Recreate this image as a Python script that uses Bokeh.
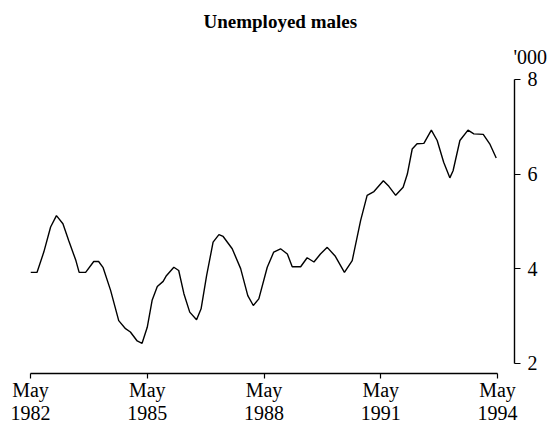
from bokeh.plotting import figure
from bokeh.models import FixedTicker, Title
from bokeh.embed import file_html
from bokeh.resources import INLINE

# Months since May 1982 and values ('000)
months = [0, 2, 4.1, 6.2, 8, 10, 11.8, 14, 15, 17, 19.5, 21, 22.4, 24.7, 27.2, 29.3,
          30.8, 32.9, 34.4, 36, 37.5, 39.1, 40.9, 41.9, 44.2, 45.7, 47.3, 49.1,
          51.2, 52.6, 54.3, 56.3, 58.1, 59.4, 62.2, 64.8, 67, 68.7, 70.4, 73, 75,
          77.1, 79.2, 80.7, 83.3, 85.3, 87.4, 89.4, 91.5, 94, 96.8, 99.2, 101.8,
          103.8, 105.9, 108.8, 110.5, 112.6, 114.9, 116.2, 117.7, 119.2, 121.3,
          123.6, 125.4, 127.4, 129.3, 130.3, 132.4, 134.9, 136.7, 139.6, 141.6, 143.6]
unemployed = [3.92, 3.92, 4.35, 4.88, 5.12, 4.95, 4.59, 4.17, 3.92, 3.92, 4.15, 4.15,
              4.02, 3.54, 2.90, 2.73, 2.66, 2.47, 2.42, 2.76, 3.33, 3.62, 3.73, 3.85,
              4.03, 3.96, 3.47, 3.08, 2.92, 3.15, 3.85, 4.56, 4.72, 4.68, 4.42, 4.00,
              3.43, 3.22, 3.36, 4.03, 4.35, 4.42, 4.31, 4.04, 4.04, 4.23, 4.14, 4.31,
              4.45, 4.26, 3.92, 4.17, 5.02, 5.55, 5.63, 5.86, 5.74, 5.55, 5.72, 6.00,
              6.53, 6.64, 6.65, 6.93, 6.71, 6.25, 5.92, 6.07, 6.71, 6.93, 6.85, 6.84,
              6.64, 6.34]

tick_years = [1982, 1985, 1988, 1991, 1994]
tick_labels = ["May\n1982", "May\n1985", "May\n1988", "May\n1991", "May\n1994"]
y_ticks = [2, 4, 6, 8]

x = [1982 + (4 + m) / 12 for m in months]
x_ticks = [yr + 4 / 12 for yr in tick_years]

FONT = "Liberation Serif"

p = figure(width=554, height=433, x_range=(x_ticks[0], 1994.77), y_range=(1.782, 8.169),
           output_backend="svg", toolbar_location=None, y_axis_location="right",
           min_border_left=30, min_border_right=40, min_border_bottom=60, min_border_top=70)
p.outline_line_color = None
p.grid.visible = False
p.background_fill_color = "white"
p.border_fill_color = "white"

# unit label above the right axis (closest panel to the frame)
unit = Title(text="'000", align="left", offset=483, standoff=8, text_font=FONT,
             text_font_size="20px", text_font_style="normal", text_color="black")
p.add_layout(unit, "above")

p.title.text = "Unemployed males"
p.title.text_font = FONT
p.title.text_font_size = "19px"
p.title.text_font_style = "bold"
p.title.text_color = "black"
p.title.align = "left"
p.title.offset = 173
p.title.standoff = 16

p.line(x, unemployed, line_color="black", line_width=1.4)

xa = p.xaxis[0]
xa.ticker = FixedTicker(ticks=x_ticks)
xa.major_label_overrides = {t: l for t, l in zip(x_ticks, tick_labels)}
xa.bounds = (x_ticks[0], x_ticks[-1])
xa.minor_tick_line_color = None
xa.major_tick_in = 0
xa.major_tick_out = 5
xa.major_label_standoff = 0
xa.major_label_text_font = FONT
xa.major_label_text_font_size = "20px"
xa.major_label_text_line_height = 1.05
xa.major_label_text_color = "black"
xa.axis_line_width = 1.4
xa.major_tick_line_width = 1.2

ya = p.yaxis[0]
ya.ticker = FixedTicker(ticks=y_ticks)
ya.bounds = (y_ticks[0], y_ticks[-1])
ya.minor_tick_line_color = None
ya.major_tick_in = 0
ya.major_tick_out = 6
ya.major_label_standoff = 7
ya.major_label_text_font = FONT
ya.major_label_text_font_size = "20px"
ya.major_label_text_color = "black"
ya.axis_line_width = 1.4
ya.major_tick_line_width = 1.2

open("out.html", "w").write(file_html(p, INLINE))
